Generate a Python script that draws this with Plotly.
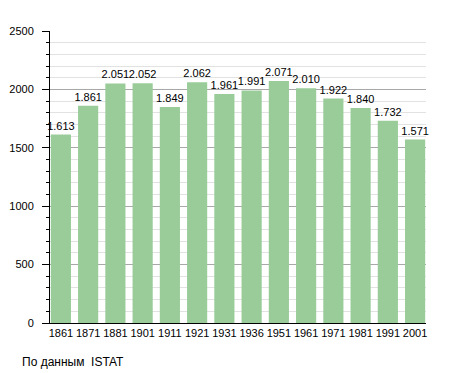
import plotly.graph_objects as go

years = ["1861", "1871", "1881", "1901", "1911", "1921", "1931", "1936", "1951", "1961", "1971", "1981", "1991", "2001"]
population = [1613, 1861, 2051, 2052, 1849, 2062, 1961, 1991, 2071, 2010, 1922, 1840, 1732, 1571]
y_ticks = [0, 500, 1000, 1500, 2000, 2500]
footer = "По данным  ISTAT"

x_idx = list(range(len(years)))

fig = go.Figure()
fig.add_trace(go.Bar(
    x=x_idx, y=population, width=0.74,
    marker=dict(color="#99CC99", line=dict(width=0)),
    texttemplate="%{y:,d}", textposition="outside", constraintext="none",
    textfont=dict(family="Liberation Sans, Arial", size=11, color="#000"),
    cliponaxis=False,
))

fig.update_layout(
    width=455, height=373,
    margin=dict(l=50, r=29, t=31, b=50, autoexpand=False),
    plot_bgcolor="white", paper_bgcolor="white",
    separators=",.",
    showlegend=False,
    font=dict(family="Liberation Sans, Arial", size=11, color="#000"),
    xaxis=dict(
        tickmode="array", tickvals=x_idx, ticktext=years,
        range=[-0.4, len(years) - 0.6],
        showline=True, linecolor="#000", linewidth=1,
        ticks="", showgrid=False, zeroline=False,
        tickfont=dict(size=11, color="#000"),
        automargin=False,
    ),
    yaxis=dict(
        range=[0, 2500], tickvals=y_ticks, tickformat="d",
        showline=True, linecolor="#000", linewidth=1,
        ticks="outside", ticklen=7, tickcolor="#000",
        ticklabelstandoff=6,
        showgrid=True, gridcolor="#A8A8A8", gridwidth=1,
        zeroline=False,
        minor=dict(dtick=100, showgrid=True, gridcolor="#E2E2E2",
                   ticks="outside", ticklen=3, tickcolor="#000"),
        tickfont=dict(size=11, color="#000"),
        automargin=False,
    ),
    annotations=[dict(
        text=footer, xref="paper", yref="paper",
        x=-30 / 376, y=-39 / 292, xanchor="left", yanchor="middle",
        showarrow=False, font=dict(size=12, color="#000"),
    )],
)

fig.write_html("out.html", config={"displayModeBar": False},
               post_script="document.body.style.margin='0';")
